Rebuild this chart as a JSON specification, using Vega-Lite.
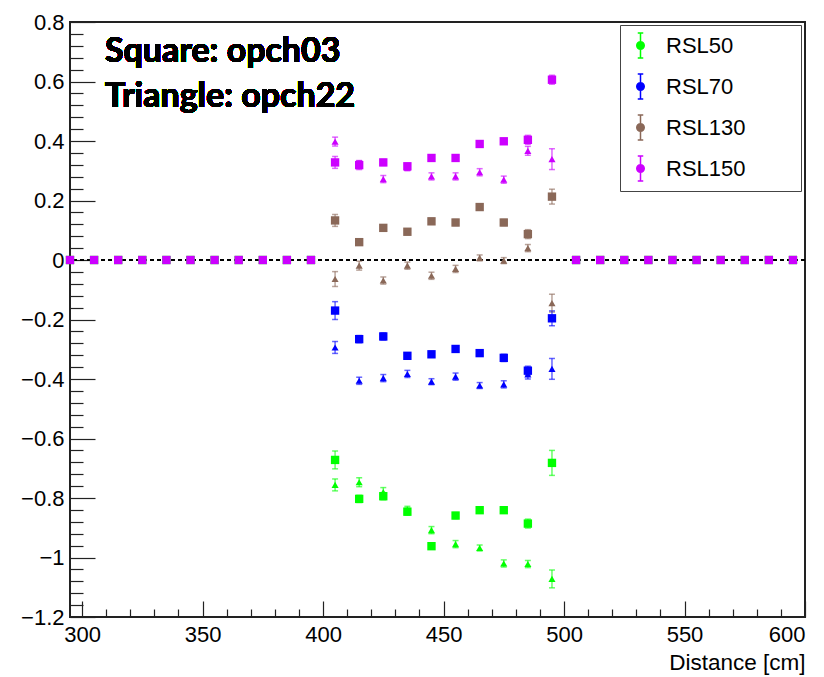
{
  "$schema": "https://vega.github.io/schema/vega-lite/v6.json",
  "width": 735,
  "height": 595,
  "autosize": {"type": "none"},
  "padding": {"left": 70, "top": 22, "right": 19, "bottom": 60},
  "background": "white",
  "config": {
    "view": {"stroke": "#222", "strokeWidth": 2},
    "axis": {"grid": false, "domain": false, "tickColor": "#222", "tickWidth": 1.2, "labelFont": "Liberation Sans", "labelFontSize": 22, "labelColor": "black", "titleFont": "Liberation Sans", "titleFontWeight": "normal", "titleColor": "black"}
  },
  "data": {"values": [
    {"d":295,"s":"RSL50","c":"sq","v":0,"e":0},{"d":305,"s":"RSL50","c":"sq","v":0,"e":0},{"d":315,"s":"RSL50","c":"sq","v":0,"e":0},{"d":325,"s":"RSL50","c":"sq","v":0,"e":0},{"d":335,"s":"RSL50","c":"sq","v":0,"e":0},{"d":345,"s":"RSL50","c":"sq","v":0,"e":0},{"d":355,"s":"RSL50","c":"sq","v":0,"e":0},{"d":365,"s":"RSL50","c":"sq","v":0,"e":0},{"d":375,"s":"RSL50","c":"sq","v":0,"e":0},{"d":385,"s":"RSL50","c":"sq","v":0,"e":0},{"d":395,"s":"RSL50","c":"sq","v":0,"e":0},
    {"d":505,"s":"RSL50","c":"sq","v":0,"e":0},{"d":515,"s":"RSL50","c":"sq","v":0,"e":0},{"d":525,"s":"RSL50","c":"sq","v":0,"e":0},{"d":535,"s":"RSL50","c":"sq","v":0,"e":0},{"d":545,"s":"RSL50","c":"sq","v":0,"e":0},{"d":555,"s":"RSL50","c":"sq","v":0,"e":0},{"d":565,"s":"RSL50","c":"sq","v":0,"e":0},{"d":575,"s":"RSL50","c":"sq","v":0,"e":0},{"d":585,"s":"RSL50","c":"sq","v":0,"e":0},{"d":595,"s":"RSL50","c":"sq","v":0,"e":0},
    {"d":295,"s":"RSL150","c":"sq","v":0,"e":0},{"d":305,"s":"RSL150","c":"sq","v":0,"e":0},{"d":315,"s":"RSL150","c":"sq","v":0,"e":0},{"d":325,"s":"RSL150","c":"sq","v":0,"e":0},{"d":335,"s":"RSL150","c":"sq","v":0,"e":0},{"d":345,"s":"RSL150","c":"sq","v":0,"e":0},{"d":355,"s":"RSL150","c":"sq","v":0,"e":0},{"d":365,"s":"RSL150","c":"sq","v":0,"e":0},{"d":375,"s":"RSL150","c":"sq","v":0,"e":0},{"d":385,"s":"RSL150","c":"sq","v":0,"e":0},{"d":395,"s":"RSL150","c":"sq","v":0,"e":0},
    {"d":505,"s":"RSL150","c":"sq","v":0,"e":0},{"d":515,"s":"RSL150","c":"sq","v":0,"e":0},{"d":525,"s":"RSL150","c":"sq","v":0,"e":0},{"d":535,"s":"RSL150","c":"sq","v":0,"e":0},{"d":545,"s":"RSL150","c":"sq","v":0,"e":0},{"d":555,"s":"RSL150","c":"sq","v":0,"e":0},{"d":565,"s":"RSL150","c":"sq","v":0,"e":0},{"d":575,"s":"RSL150","c":"sq","v":0,"e":0},{"d":585,"s":"RSL150","c":"sq","v":0,"e":0},{"d":595,"s":"RSL150","c":"sq","v":0,"e":0},

    {"d":405,"s":"RSL50","c":"sq","v":-0.672,"e":0.03},{"d":415,"s":"RSL50","c":"sq","v":-0.803,"e":0.012},{"d":425,"s":"RSL50","c":"sq","v":-0.794,"e":0.012},{"d":435,"s":"RSL50","c":"sq","v":-0.846,"e":0.012},{"d":445,"s":"RSL50","c":"sq","v":-0.962,"e":0.01},{"d":455,"s":"RSL50","c":"sq","v":-0.859,"e":0.01},{"d":465,"s":"RSL50","c":"sq","v":-0.841,"e":0.01},{"d":475,"s":"RSL50","c":"sq","v":-0.841,"e":0.01},{"d":485,"s":"RSL50","c":"sq","v":-0.886,"e":0.015},{"d":495,"s":"RSL50","c":"sq","v":-0.682,"e":0.042},
    {"d":405,"s":"RSL50","c":"tri","v":-0.756,"e":0.02},{"d":415,"s":"RSL50","c":"tri","v":-0.747,"e":0.015},{"d":425,"s":"RSL50","c":"tri","v":-0.78,"e":0.015},{"d":435,"s":"RSL50","c":"tri","v":-0.84,"e":0.012},{"d":445,"s":"RSL50","c":"tri","v":-0.908,"e":0.012},{"d":455,"s":"RSL50","c":"tri","v":-0.955,"e":0.012},{"d":465,"s":"RSL50","c":"tri","v":-0.968,"e":0.01},{"d":475,"s":"RSL50","c":"tri","v":-1.02,"e":0.012},{"d":485,"s":"RSL50","c":"tri","v":-1.022,"e":0.012},{"d":495,"s":"RSL50","c":"tri","v":-1.072,"e":0.03},
    {"d":405,"s":"RSL70","c":"sq","v":-0.17,"e":0.03},{"d":415,"s":"RSL70","c":"sq","v":-0.266,"e":0.012},{"d":425,"s":"RSL70","c":"sq","v":-0.257,"e":0.012},{"d":435,"s":"RSL70","c":"sq","v":-0.322,"e":0.01},{"d":445,"s":"RSL70","c":"sq","v":-0.317,"e":0.01},{"d":455,"s":"RSL70","c":"sq","v":-0.299,"e":0.01},{"d":465,"s":"RSL70","c":"sq","v":-0.313,"e":0.01},{"d":475,"s":"RSL70","c":"sq","v":-0.329,"e":0.012},{"d":485,"s":"RSL70","c":"sq","v":-0.372,"e":0.015},{"d":495,"s":"RSL70","c":"sq","v":-0.196,"e":0.025},
    {"d":405,"s":"RSL70","c":"tri","v":-0.294,"e":0.02},{"d":415,"s":"RSL70","c":"tri","v":-0.406,"e":0.012},{"d":425,"s":"RSL70","c":"tri","v":-0.397,"e":0.012},{"d":435,"s":"RSL70","c":"tri","v":-0.383,"e":0.012},{"d":445,"s":"RSL70","c":"tri","v":-0.409,"e":0.01},{"d":455,"s":"RSL70","c":"tri","v":-0.392,"e":0.012},{"d":465,"s":"RSL70","c":"tri","v":-0.422,"e":0.01},{"d":475,"s":"RSL70","c":"tri","v":-0.418,"e":0.012},{"d":485,"s":"RSL70","c":"tri","v":-0.385,"e":0.015},{"d":495,"s":"RSL70","c":"tri","v":-0.366,"e":0.035},
    {"d":405,"s":"RSL130","c":"sq","v":0.133,"e":0.02},{"d":415,"s":"RSL130","c":"sq","v":0.06,"e":0.01},{"d":425,"s":"RSL130","c":"sq","v":0.108,"e":0.01},{"d":435,"s":"RSL130","c":"sq","v":0.095,"e":0.01},{"d":445,"s":"RSL130","c":"sq","v":0.13,"e":0.01},{"d":455,"s":"RSL130","c":"sq","v":0.126,"e":0.01},{"d":465,"s":"RSL130","c":"sq","v":0.178,"e":0.01},{"d":475,"s":"RSL130","c":"sq","v":0.126,"e":0.01},{"d":485,"s":"RSL130","c":"sq","v":0.087,"e":0.015},{"d":495,"s":"RSL130","c":"sq","v":0.213,"e":0.025},
    {"d":405,"s":"RSL130","c":"tri","v":-0.064,"e":0.025},{"d":415,"s":"RSL130","c":"tri","v":-0.019,"e":0.015},{"d":425,"s":"RSL130","c":"tri","v":-0.069,"e":0.012},{"d":435,"s":"RSL130","c":"tri","v":-0.019,"e":0.012},{"d":445,"s":"RSL130","c":"tri","v":-0.053,"e":0.012},{"d":455,"s":"RSL130","c":"tri","v":-0.03,"e":0.012},{"d":465,"s":"RSL130","c":"tri","v":0.007,"e":0.01},{"d":475,"s":"RSL130","c":"tri","v":-0.002,"e":0.01},{"d":485,"s":"RSL130","c":"tri","v":0.04,"e":0.012},{"d":495,"s":"RSL130","c":"tri","v":-0.145,"e":0.03},
    {"d":405,"s":"RSL150","c":"sq","v":0.328,"e":0.02},{"d":415,"s":"RSL150","c":"sq","v":0.319,"e":0.015},{"d":425,"s":"RSL150","c":"sq","v":0.328,"e":0.01},{"d":435,"s":"RSL150","c":"sq","v":0.315,"e":0.01},{"d":445,"s":"RSL150","c":"sq","v":0.343,"e":0.01},{"d":455,"s":"RSL150","c":"sq","v":0.343,"e":0.01},{"d":465,"s":"RSL150","c":"sq","v":0.39,"e":0.01},{"d":475,"s":"RSL150","c":"sq","v":0.399,"e":0.01},{"d":485,"s":"RSL150","c":"sq","v":0.404,"e":0.015},{"d":495,"s":"RSL150","c":"sq","v":0.606,"e":0.015},
    {"d":405,"s":"RSL150","c":"tri","v":0.398,"e":0.015},{"d":415,"s":"RSL150","c":"tri","v":0.322,"e":0.012},{"d":425,"s":"RSL150","c":"tri","v":0.272,"e":0.012},{"d":435,"s":"RSL150","c":"tri","v":0.31,"e":0.01},{"d":445,"s":"RSL150","c":"tri","v":0.281,"e":0.012},{"d":455,"s":"RSL150","c":"tri","v":0.281,"e":0.012},{"d":465,"s":"RSL150","c":"tri","v":0.295,"e":0.012},{"d":475,"s":"RSL150","c":"tri","v":0.27,"e":0.012},{"d":485,"s":"RSL150","c":"tri","v":0.367,"e":0.015},{"d":495,"s":"RSL150","c":"tri","v":0.339,"e":0.035}
  ]},
  "resolve": {"axis": {"x": "independent", "y": "independent"}},
  "layer": [
    {
      "mark": {"type": "point", "opacity": 0},
      "encoding": {
        "x": {"field": "d", "type": "quantitative", "scale": {"domain": [295, 600], "nice": false, "zero": false},
          "axis": {"orient": "bottom", "title": null, "labels": false, "tickSize": -8, "values": [310,320,330,340,360,370,380,390,410,420,430,440,460,470,480,490,510,520,530,540,560,570,580,590]}},
        "y": {"field": "v", "type": "quantitative", "scale": {"domain": [-1.2, 0.8], "nice": false, "zero": false},
          "axis": {"orient": "left", "title": null, "labels": false, "tickSize": -13, "values": [-1.16,-1.12,-1.08,-1.04,-0.96,-0.92,-0.88,-0.84,-0.76,-0.72,-0.68,-0.64,-0.56,-0.52,-0.48,-0.44,-0.36,-0.32,-0.28,-0.24,-0.16,-0.12,-0.08,-0.04,0.04,0.08,0.12,0.16,0.24,0.28,0.32,0.36,0.44,0.48,0.52,0.56,0.64,0.68,0.72,0.76]}}
      }
    },
    {
      "mark": {"type": "rule", "color": "black", "strokeWidth": 2, "strokeDash": [4, 3]},
      "encoding": {"y": {"datum": 0, "type": "quantitative", "axis": null}}
    },
    {
      "transform": [{"filter": "datum.e > 0"}],
      "mark": {"type": "errorbar", "ticks": {"size": 6, "opacity": 0.6}, "rule": {"opacity": 0.6}, "thickness": 1.5},
      "encoding": {
        "x": {"field": "d", "type": "quantitative", "axis": null},
        "y": {"field": "v", "type": "quantitative", "axis": null},
        "yError": {"field": "e"},
        "color": {"field": "s", "type": "nominal", "scale": {"domain": ["RSL50", "RSL70", "RSL130", "RSL150"], "range": ["#00ff00", "#0000ff", "#8a6858", "#cc00ff"]}}
      }
    },
    {
      "mark": {"type": "point", "filled": true, "opacity": 1},
      "encoding": {
        "x": {"field": "d", "type": "quantitative",
          "axis": {"orient": "bottom", "title": "Distance [cm]", "titleFontSize": 22.5, "titleAnchor": "end", "titleBaseline": "middle", "titleY": 45, "tickSize": -16, "labelPadding": 23, "values": [300, 350, 400, 450, 500, 550, 600]}},
        "y": {"field": "v", "type": "quantitative",
          "axis": {"orient": "left", "title": null, "tickSize": -25, "labelPadding": 31, "format": "~g", "values": [-1.2, -1, -0.8, -0.6, -0.4, -0.2, 0, 0.2, 0.4, 0.6, 0.8]}},
        "shape": {"field": "c", "type": "nominal", "scale": {"domain": ["sq", "tri"], "range": ["square", "triangle-up"]}, "legend": null},
        "size": {"field": "c", "type": "nominal", "scale": {"domain": ["sq", "tri"], "range": [70, 50]}, "legend": null},
        "color": {"field": "s", "type": "nominal",
          "legend": {
            "orient": "none", "legendX": 550, "legendY": 3,
            "title": "x", "titleOrient": "right", "titleOpacity": 0, "titleFontSize": 10, "titlePadding": 42,
            "symbolType": "M0,-1V1M-0.22,-1H0.22M-0.22,1H0.22M-0.3,0A0.3,0.3 0 1,0 0.3,0A0.3,0.3 0 1,0 -0.3,0Z",
            "symbolSize": 625, "symbolStrokeWidth": 1.5, "symbolOpacity": 1,
            "labelFont": "Liberation Sans", "labelFontSize": 22, "labelColor": "black", "labelOffset": 12,
            "padding": 7, "rowPadding": 10, "strokeColor": "#444", "fillColor": "white",
            "encode": {"symbols": {"update": {"stroke": {"scale": "color", "field": "value"}, "fill": {"scale": "color", "field": "value"}}}}
          }}
      }
    },
    {
      "mark": {"type": "text", "font": "Lato", "fontWeight": "bold", "fontSize": 34, "align": "left", "baseline": "alphabetic", "color": "black"},
      "encoding": {"x": {"datum": 309.5, "type": "quantitative", "axis": null}, "y": {"datum": 0.665, "type": "quantitative", "axis": null}, "text": {"value": "Square: opch03"}}
    },
    {
      "mark": {"type": "text", "font": "Lato", "fontWeight": "bold", "fontSize": 34, "align": "left", "baseline": "alphabetic", "color": "black"},
      "encoding": {"x": {"datum": 309.5, "type": "quantitative", "axis": null}, "y": {"datum": 0.514, "type": "quantitative", "axis": null}, "text": {"value": "Triangle: opch22"}}
    }
  ]
}
